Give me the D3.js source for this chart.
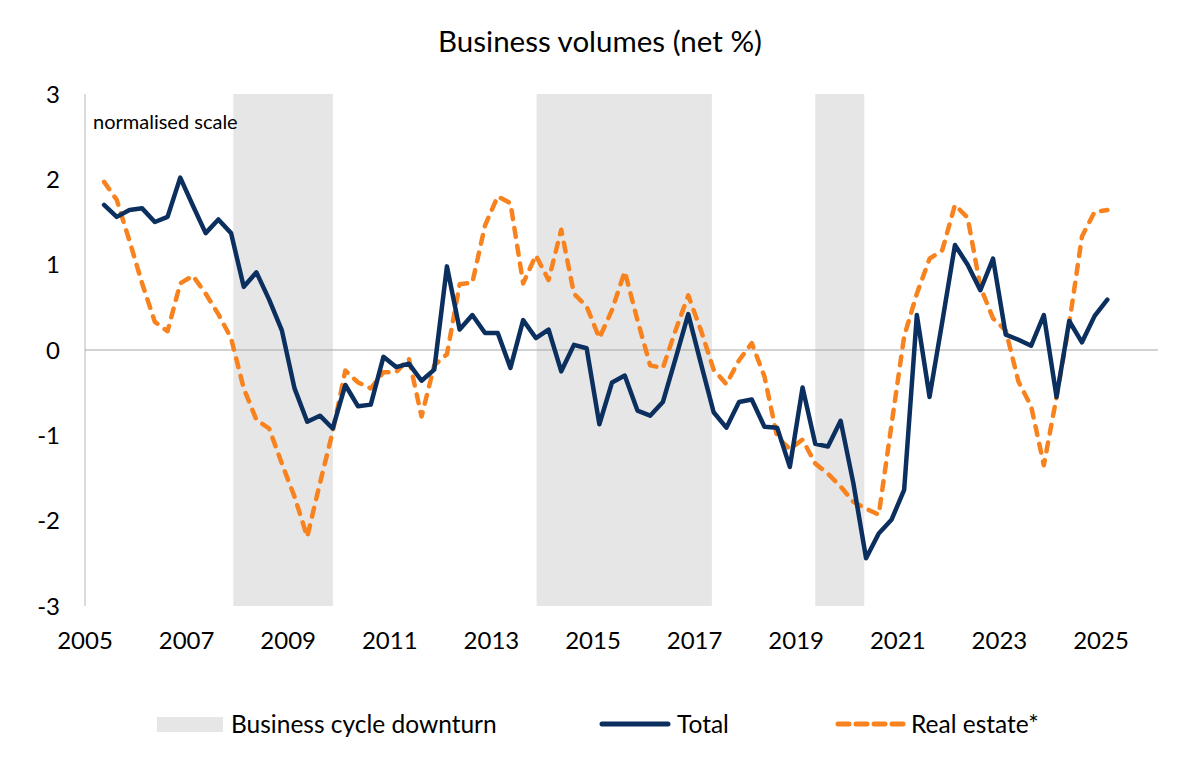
<!DOCTYPE html>
<html>
<head>
<meta charset="utf-8">
<script src="https://cdn.jsdelivr.net/npm/d3@7/dist/d3.min.js"></script>
<style>
  html, body { margin: 0; padding: 0; background: #ffffff; }
  svg { display: block; font-family: Lato, "Open Sans", "Noto Sans", sans-serif; }
</style>
</head>
<body>
<svg id="chart" width="1200" height="770"></svg>
<script>
// ---- data ----
const quarters = [
  "2005Q2","2005Q3","2005Q4",
  "2006Q1","2006Q2","2006Q3","2006Q4",
  "2007Q1","2007Q2","2007Q3","2007Q4",
  "2008Q1","2008Q2","2008Q3","2008Q4",
  "2009Q1","2009Q2","2009Q3","2009Q4",
  "2010Q1","2010Q2","2010Q3","2010Q4",
  "2011Q1","2011Q2","2011Q3","2011Q4",
  "2012Q1","2012Q2","2012Q3","2012Q4",
  "2013Q1","2013Q2","2013Q3","2013Q4",
  "2014Q1","2014Q2","2014Q3","2014Q4",
  "2015Q1","2015Q2","2015Q3","2015Q4",
  "2016Q1","2016Q2","2016Q3","2016Q4",
  "2017Q1","2017Q2","2017Q3","2017Q4",
  "2018Q1","2018Q2","2018Q3","2018Q4",
  "2019Q1","2019Q2","2019Q3","2019Q4",
  "2020Q1","2020Q2","2020Q3","2020Q4",
  "2021Q1","2021Q2","2021Q3","2021Q4",
  "2022Q1","2022Q2","2022Q3","2022Q4",
  "2023Q1","2023Q2","2023Q3","2023Q4",
  "2024Q1","2024Q2","2024Q3","2024Q4",
  "2025Q1"
];

const total = [
  1.70, 1.56, 1.64,
  1.66, 1.50, 1.56, 2.02,
  1.69, 1.37, 1.53, 1.37,
  0.74, 0.91, 0.59, 0.23,
  -0.45, -0.84, -0.77, -0.92,
  -0.41, -0.66, -0.64, -0.08,
  -0.20, -0.16, -0.36, -0.23,
  0.98, 0.24, 0.41, 0.20,
  0.20, -0.21, 0.35, 0.14,
  0.24, -0.25, 0.06, 0.02,
  -0.87, -0.38, -0.30, -0.71,
  -0.77, -0.61, -0.10, 0.42,
  -0.16, -0.73, -0.91, -0.61,
  -0.58, -0.90, -0.91, -1.37,
  -0.44, -1.10, -1.13, -0.83,
  -1.56, -2.44, -2.15, -1.99,
  -1.64, 0.41, -0.55, 0.33,
  1.23, 1.00, 0.70, 1.07,
  0.18, 0.12, 0.05, 0.41,
  -0.55, 0.34, 0.09, 0.40,
  0.59
];

const realEstate = [
  1.97, 1.76, 1.28,
  0.78, 0.33, 0.22, 0.78,
  0.87, 0.66, 0.42, 0.14,
  -0.45, -0.82, -0.92, -1.33,
  -1.72, -2.19, -1.56, -0.96,
  -0.24, -0.38, -0.45, -0.26,
  -0.26, -0.10, -0.78, -0.18,
  -0.05, 0.77, 0.79, 1.46,
  1.80, 1.72, 0.78, 1.11,
  0.82, 1.41, 0.66, 0.51,
  0.14, 0.47, 0.92, 0.35,
  -0.18, -0.21, 0.23, 0.64,
  0.23, -0.23, -0.40, -0.12,
  0.08, -0.31, -1.02, -1.16,
  -1.05, -1.33, -1.45, -1.60,
  -1.78, -1.86, -1.93, -0.88,
  0.16, 0.66, 1.07, 1.17,
  1.70, 1.55, 0.74, 0.37,
  0.23, -0.37, -0.66, -1.35,
  -0.55, 0.31, 1.33, 1.62,
  1.64
];

// business cycle downturns (decimal years, start / end)
const downturnStart = [2007.92, 2013.89, 2019.375];
const downturnEnd   = [2009.88, 2017.34, 2020.34];

const yTicks = [3, 2, 1, 0, -1, -2, -3];
const xTickYears = [2005, 2007, 2009, 2011, 2013, 2015, 2017, 2019, 2021, 2023, 2025];

const titleText = "Business volumes (net %)";
const noteText = "normalised scale";
const legendLabels = ["Business cycle downturn", "Total", "Real estate*"];

// ---- helpers ----
function quarterToYear(q) {
  const yr = +q.slice(0, 4);
  const qn = +q.slice(5);
  return yr + (qn - 1) * 0.25 + 0.125;
}

// ---- layout ----
const svg = d3.select("#chart");
const colNavy = "#0b2f5e";
const colOrange = "#f7821e";
const colBand = "#e6e6e6";

const x = d3.scaleLinear().domain([2005, 2025]).range([85, 1101]);
const y = d3.scaleLinear().domain([-3, 3]).range([606, 94]);
const xRightEdge = 1158;

const rows = quarters.map((q, i) => ({ t: quarterToYear(q), total: total[i], re: realEstate[i] }));
const bands = downturnStart.map((s, i) => ({ s, e: downturnEnd[i] }));

// bands
svg.append("g").selectAll("rect").data(bands).join("rect")
  .attr("x", d => x(d.s))
  .attr("width", d => x(d.e) - x(d.s))
  .attr("y", y(3))
  .attr("height", y(-3) - y(3))
  .attr("fill", colBand);

// y axis line
svg.append("line")
  .attr("x1", x(2005)).attr("x2", x(2005))
  .attr("y1", y(3)).attr("y2", y(-3))
  .attr("stroke", "#c8c8c8").attr("stroke-width", 1.3);

// zero line
svg.append("line")
  .attr("x1", x(2005)).attr("x2", xRightEdge)
  .attr("y1", y(0)).attr("y2", y(0))
  .attr("stroke", "#a6a6a6").attr("stroke-width", 1);

// y tick labels
svg.append("g").selectAll("text").data(yTicks).join("text")
  .attr("x", 60)
  .attr("y", d => y(d))
  .attr("dy", "0.36em")
  .attr("text-anchor", "end")
  .attr("font-size", 24)
  .attr("fill", "#000")
  .text(d => d);

// x tick labels
svg.append("g").selectAll("text").data(xTickYears).join("text")
  .attr("x", d => x(d))
  .attr("y", 649)
  .attr("text-anchor", "middle")
  .attr("font-size", 24)
  .attr("fill", "#000")
  .text(d => d);

// lines
const lineTotal = d3.line().x(d => x(d.t)).y(d => y(d.total));
const lineRE = d3.line().x(d => x(d.t)).y(d => y(d.re));

svg.append("path").datum(rows)
  .attr("d", lineRE)
  .attr("fill", "none")
  .attr("stroke", colOrange)
  .attr("stroke-width", 4.5)
  .attr("stroke-dasharray", "9,9")
  .attr("stroke-linecap", "round")
  .attr("stroke-linejoin", "round");

svg.append("path").datum(rows)
  .attr("d", lineTotal)
  .attr("fill", "none")
  .attr("stroke", colNavy)
  .attr("stroke-width", 4.5)
  .attr("stroke-linejoin", "round")
  .attr("stroke-linecap", "round");

// title
svg.append("text")
  .attr("x", 600).attr("y", 52)
  .attr("text-anchor", "middle")
  .attr("font-size", 29.5)
  .attr("fill", "#000")
  .text(titleText);

// note
svg.append("text")
  .attr("x", 93).attr("y", 129)
  .attr("font-size", 20)
  .attr("fill", "#000")
  .text(noteText);

// legend
const lg = svg.append("g");
lg.append("rect").attr("x", 157).attr("y", 717).attr("width", 66).attr("height", 15).attr("fill", colBand);
lg.append("text").attr("x", 231).attr("y", 733).attr("font-size", 24.5).attr("fill", "#000").text(legendLabels[0]);

lg.append("line").attr("x1", 602).attr("x2", 668).attr("y1", 724).attr("y2", 724)
  .attr("stroke", colNavy).attr("stroke-width", 5).attr("stroke-linecap", "round");
lg.append("text").attr("x", 677).attr("y", 733).attr("font-size", 24.5).attr("fill", "#000").text(legendLabels[1]);

lg.append("line").attr("x1", 838).attr("x2", 903).attr("y1", 724).attr("y2", 724)
  .attr("stroke", colOrange).attr("stroke-width", 5).attr("stroke-linecap", "round")
  .attr("stroke-dasharray", "11,7");
lg.append("text").attr("x", 911).attr("y", 733).attr("font-size", 24.5).attr("fill", "#000").text(legendLabels[2]);
</script>
</body>
</html>
